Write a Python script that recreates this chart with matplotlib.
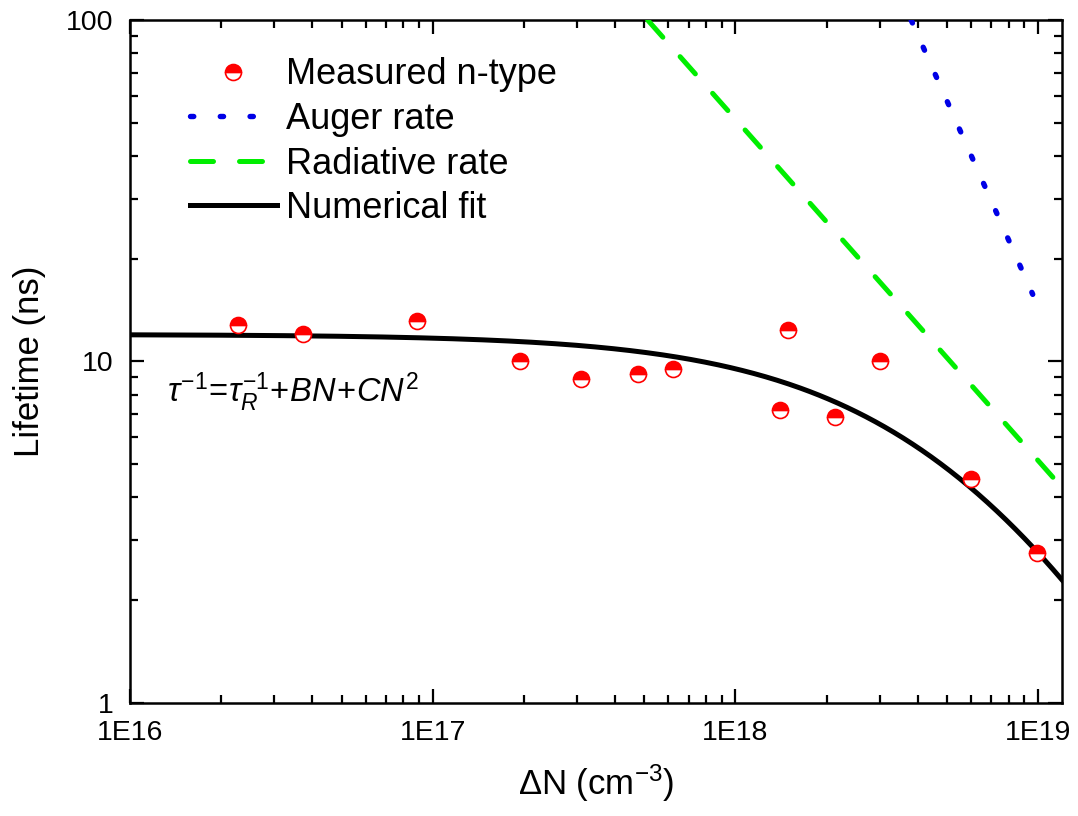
import numpy as np
import matplotlib
matplotlib.use("Agg")
import matplotlib.pyplot as plt
from matplotlib.ticker import FixedLocator, FixedFormatter, LogLocator, NullFormatter

plt.rcParams['font.family'] = ['Liberation Sans', 'DejaVu Sans']
plt.rcParams['mathtext.fontset'] = 'custom'
plt.rcParams['mathtext.rm'] = 'Liberation Sans'
plt.rcParams['mathtext.it'] = 'Liberation Sans:italic'
plt.rcParams['mathtext.bf'] = 'Liberation Sans:bold'

# Measured lifetimes, n-type samples
density = [2.27e16, 3.72e16, 8.9e16, 1.95e17, 3.08e17, 4.78e17, 6.2e17,
           1.40e18, 1.49e18, 2.14e18, 3.01e18, 6.0e18, 9.93e18]   # cm^-3
lifetime = [12.8, 12.0, 13.1, 10.0, 8.89, 9.19, 9.5,
            7.21, 12.4, 6.88, 10.0, 4.53, 2.75]                    # ns

# Recombination coefficients for the individual rate lines
B_rad = 1.95e-11     # cm^3/s
C_aug = 6.9e-31      # cm^6/s
auger_n_max = 9.6e18 # cm^-3, end of the Auger line

# Parameters of the numerical fit  1/tau = 1/tau_R + B N + C N^2
tau_R_fit = 12.0     # ns
B_fit = 2.1e-11      # cm^3/s
C_fit = 7.0e-31      # cm^6/s

x_ticks = [1e16, 1e17, 1e18, 1e19]
x_tick_labels = ['1E16', '1E17', '1E18', '1E19']
y_ticks = [1, 10, 100]
y_tick_labels = ['1', '10', '100']
x_range = (1e16, 1.2e19)
y_range = (1, 100)

fig = plt.figure(figsize=(10.78, 8.16), dpi=100)
ax = fig.add_axes([0.1206, 0.1385, 0.8646, 0.8370])
ax.set_xscale('log')
ax.set_yscale('log')

# Rate curves (lifetimes in ns), starting where they enter the plot at the top
n_rad_start = 1e9 / (B_rad * y_range[1])
n_rad = np.logspace(np.log10(n_rad_start), np.log10(x_range[1]), 200)
tau_rad = 1e9 / (B_rad * n_rad)
n_aug_start = np.sqrt(1e9 / (C_aug * y_range[1]))
n_aug = np.logspace(np.log10(n_aug_start), np.log10(auger_n_max), 200)
tau_aug = 1e9 / (C_aug * n_aug ** 2)
n_fit = np.logspace(np.log10(x_range[0]), np.log10(x_range[1]), 400)
tau_fit = 1e9 / (1e9 / tau_R_fit + B_fit * n_fit + C_fit * n_fit ** 2)

ax.plot(density, lifetime, linestyle='none', marker='o', markersize=11.5,
        markerfacecolor='#ff0000', markerfacecoloralt='white', fillstyle='top',
        markeredgecolor='#ff0000', markeredgewidth=1.2, label='Measured n-type',
        zorder=4)
ax.plot(n_aug, tau_aug, color='#0000e6', linewidth=3.9, linestyle=(0, (0.6, 4.9)),
        dash_capstyle='round', label='Auger rate', zorder=3)
ax.plot(n_rad, tau_rad, color='#00ee00', linewidth=3.6, linestyle=(0, (4.6, 5.2)),
        dash_capstyle='round', label='Radiative rate', zorder=3)
ax.plot(n_fit, tau_fit, color='black', linewidth=3.6, label='Numerical fit', zorder=3)

ax.set_xlim(*x_range)
ax.set_ylim(*y_range)

ax.xaxis.set_major_locator(FixedLocator(x_ticks))
ax.xaxis.set_major_formatter(FixedFormatter(x_tick_labels))
ax.xaxis.set_minor_locator(LogLocator(base=10, subs=np.arange(2, 10), numticks=20))
ax.xaxis.set_minor_formatter(NullFormatter())
ax.yaxis.set_major_locator(FixedLocator(y_ticks))
ax.yaxis.set_major_formatter(FixedFormatter(y_tick_labels))
ax.yaxis.set_minor_locator(LogLocator(base=10, subs=np.arange(2, 10), numticks=20))
ax.yaxis.set_minor_formatter(NullFormatter())

ax.tick_params(which='both', direction='in', top=True, right=True, width=1.6)
ax.tick_params(which='major', length=10, labelsize=20.5, pad=12)
ax.tick_params(which='minor', length=5.8)
for sp in ax.spines.values():
    sp.set_linewidth(1.8)

ax.set_xlabel(r'$\Delta$N (cm$^{-3}$)', fontsize=25, labelpad=12)
ax.set_ylabel('Lifetime (ns)', fontsize=25, labelpad=14)

ax.text(0.04, 0.455, r'$\mathit{\tau^{-1}\!=\!\tau_R^{-1}\!+\!BN\!+\!CN^2}$',
        transform=ax.transAxes, fontsize=23.5, va='center', ha='left')

leg = ax.legend(loc='upper left', bbox_to_anchor=(0.041, 0.977), frameon=False,
                fontsize=26, numpoints=1, handlelength=2.4, handletextpad=0.25,
                labelspacing=0.265, borderaxespad=0.2)

fig.savefig('out.png', dpi=100)
